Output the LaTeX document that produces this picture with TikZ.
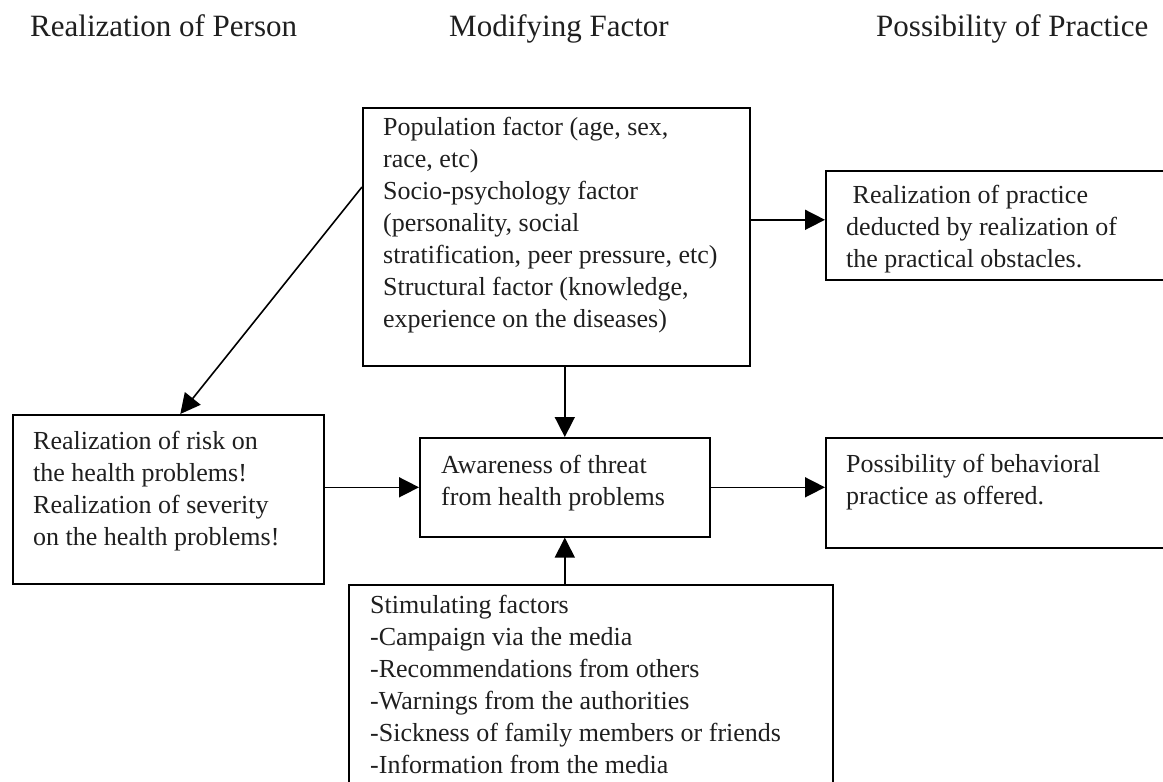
\documentclass[tikz,border=0pt]{standalone}
\usepackage{fontspec}
\setmainfont{Liberation Serif}
\usetikzlibrary{arrows.meta,calc}
\newcommand{\fl}{\rule{0pt}{19pt}}
\tikzset{
  box/.style={draw=black, line width=1.6pt, rectangle, inner sep=0pt, anchor=north west},
  txt/.style={anchor=north west, inner sep=0pt, align=left, text=black!88, font=\fontsize{26}{32}\selectfont},
  head/.style={anchor=base west, inner sep=0pt, text=black!88, font=\fontsize{31}{36}\selectfont},
  arr/.style={draw=black, line width=1.6pt, -{Triangle[length=20pt,width=20pt]}}
}
\begin{document}
\begin{tikzpicture}[x=1pt,y=-1pt]
\useasboundingbox (0,0) rectangle (1163,782);
\clip (0,0) rectangle (1163,782);
\fill[white] (0,0) rectangle (1163,782);

% headers
\node[head] (h1) at (30,36) {Realization of Person};
\node[head] (h2) at (449,36) {Modifying Factor};
\node[head] (h3) at (876,36) {Possibility of Practice};

% boxes
\node[box, minimum width=387pt, minimum height=258pt] (pop) at (362,107) {};
\node[box, minimum width=360pt, minimum height=109pt] (tr) at (825,170) {};
\node[box, minimum width=311pt, minimum height=169pt] (left) at (12,414) {};
\node[box, minimum width=290pt, minimum height=99pt] (center) at (419,437) {};
\node[box, minimum width=360pt, minimum height=110pt] (poss) at (825,437) {};
\node[box, minimum width=484pt, minimum height=230pt] (bottom) at (348,584) {};

% texts
\node[txt] (poptxt) at (383,116) {\fl Population factor (age, sex,\\race, etc)\\Socio-psychology factor\\(personality, social\\stratification, peer pressure, etc)\\Structural factor (knowledge,\\experience on the diseases)};
\node[txt] (trtxt) at (846,184) {\fl\ Realization of practice\\deducted by realization of\\the practical obstacles.};
\node[txt] (lefttxt) at (33,430) {\fl Realization of risk on\\the health problems!\\Realization of severity\\on the health problems!};
\node[txt] (centertxt) at (441,454) {\fl Awareness of threat\\from health problems};
\node[txt] (posstxt) at (846,453) {\fl Possibility of behavioral\\practice as offered.};
\node[txt] (bottomtxt) at (370,594) {\fl Stimulating factors\\-Campaign via the media\\-Recommendations from others\\-Warnings from the authorities\\-Sickness of family members or friends\\-Information from the media};

% connectors
\draw[arr] ($(pop.east |- tr.west)+(0,-5.5)$) -- ($(tr.west)+(0,-5.5)$);
\draw[arr] ($(pop.north west)+(0,80)$) -- ($(left.north)+(12,0)$);
\draw[arr] (pop.south -| center.north) -- (center.north);
\draw[arr] (left.east |- center.west) -- (center.west);
\draw[arr] (center.east) -- (center.east -| poss.west);
\draw[arr] (center.south |- bottom.north) -- (center.south);
\end{tikzpicture}
\end{document}
